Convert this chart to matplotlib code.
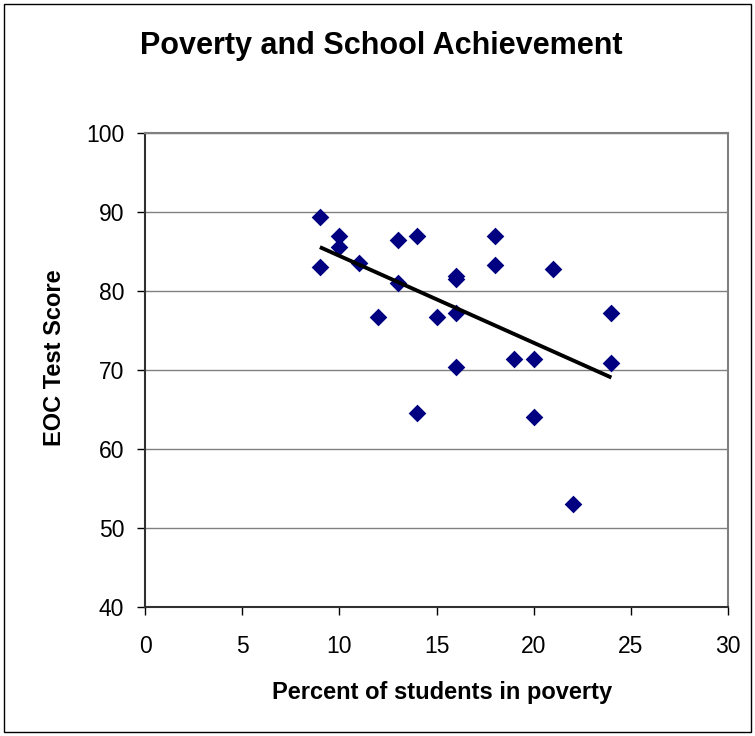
import matplotlib.pyplot as plt
import numpy as np
from matplotlib.patches import Rectangle

plt.rcParams['font.family'] = ['Liberation Sans', 'DejaVu Sans']

# poverty percent vs EOC score
poverty = [9, 10, 10, 9, 11, 13, 14, 13, 12, 15, 18, 18, 21, 16, 16, 16,
           24, 19, 20, 24, 16, 14, 20, 22]
score = [89.4, 86.9, 85.6, 83.1, 83.5, 86.4, 86.9, 81.0, 76.7, 76.7, 86.9, 83.3,
         82.8, 81.9, 81.5, 77.2, 77.2, 71.4, 71.4, 70.9, 70.4, 64.6, 64.1, 53.0]

x_ticks = [0, 5, 10, 15, 20, 25, 30]
y_ticks = [40, 50, 60, 70, 80, 90, 100]

W, H = 755, 736
fig = plt.figure(figsize=(W / 100, H / 100), dpi=100)
ax = fig.add_axes([145 / W, 1 - 607 / H, (728 - 145) / W, (607 - 133) / H])

ax.scatter(poverty, score, marker='D', s=9 ** 2, color='#000080', zorder=3,
           linewidths=0)

# linear trend line
k, b = np.polyfit(poverty, score, 1)
xs = np.array([min(poverty), max(poverty)])
ax.plot(xs, k * xs + b, color='black', lw=2.8, zorder=4, solid_capstyle='butt')

ax.set_xlim(0, 30)
ax.set_ylim(40, 100)
ax.set_xticks(x_ticks)
ax.set_yticks(y_ticks)
ax.yaxis.grid(True, color='#808080', lw=1)
ax.set_axisbelow(True)
ax.tick_params(direction='out', length=6, width=1, labelsize=16.5)
ax.tick_params(axis='y', pad=9)
ax.tick_params(axis='x', pad=14)
for s in ['top', 'right']:
    ax.spines[s].set_color('#808080')
    ax.spines[s].set_linewidth(1.5)
for s in ['left', 'bottom']:
    ax.spines[s].set_color('#303030')
    ax.spines[s].set_linewidth(1.5)

fig.text(381 / W, 1 - 46 / H, 'Poverty and School Achievement', ha='center',
         va='center', fontsize=22, fontweight='bold')
fig.text(442 / W, 1 - 692 / H, 'Percent of students in poverty', ha='center',
         va='center', fontsize=17, fontweight='bold')
fig.text(55 / W, 1 - 358 / H, 'EOC Test Score', ha='center', va='center',
         rotation=90, fontsize=17, fontweight='bold')

fig.patches.append(Rectangle((4 / W, 4 / H), 747 / W, 728 / H, fill=False,
                             edgecolor='black', lw=1, transform=fig.transFigure))

fig.savefig('out.png', dpi=100)
